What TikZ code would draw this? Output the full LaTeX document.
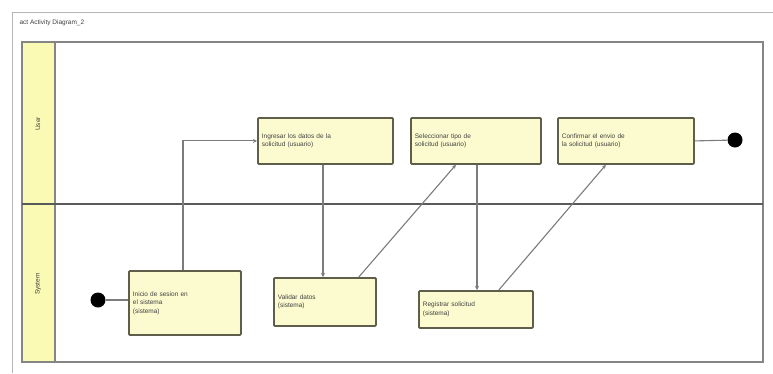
\documentclass[tikz,border=0pt]{standalone}
\usepackage{fontspec}
\setmainfont{Liberation Sans}
\usetikzlibrary{arrows.meta,calc}
\definecolor{actfill}{HTML}{FBFBCF}
\definecolor{actdraw}{HTML}{5E5E4A}
\definecolor{lanefill}{HTML}{FAFAB4}
\definecolor{framegray}{HTML}{858585}
\definecolor{linkgray}{HTML}{7C7C7C}
\tikzset{
  act/.style={draw=actdraw, line width=1.8pt, fill=actfill, rounded corners=1pt,
    inner sep=0pt, align=left, font=\fontsize{6.5}{8.5}\selectfont, text=black!75, anchor=north west},
  link/.style={draw=linkgray, line width=1.1pt, -{Stealth[length=4pt,width=4pt]}},
  plain/.style={draw=linkgray, line width=1.1pt},
  dotnode/.style={circle, fill=black, minimum size=15pt, inner sep=0pt},
  lanelbl/.style={rotate=90, font=\fontsize{6.5}{8}\selectfont, text=black!75}
}
\begin{document}
\begin{tikzpicture}[x=1pt,y=-1pt]
\useasboundingbox (0,0) rectangle (773,373);
\fill[white] (0,0) rectangle (773,373);
% outer window lines
\draw[framegray!60, line width=0.8pt] (12,12) -- (773,12);
\draw[framegray!60, line width=0.8pt] (12,12) -- (12,373);
\node[anchor=west, font=\fontsize{6.5}{8}\selectfont, text=black!75] (title) at (16,23) {act Activity Diagram\_2};
% diagram frame and lanes
\fill[lanefill] (22,42) rectangle (55,362);
\draw[framegray, line width=1.5pt] (22,42) rectangle (763,362);
\draw[framegray, line width=1.5pt] (55,42) -- (55,362);
\draw[black!65, line width=1.8pt] (22,204) -- (763,204);
\node[lanelbl] (lane1) at (38,124) {User};
\node[lanelbl] (lane2) at (38,284) {System};
% nodes
\node[dotnode] (start) at (98,300) {};
\node[act, minimum width=112pt, minimum height=64pt, text width=104pt, inner xsep=4pt] (a) at (128,270) {Inicio de sesion en\\ el sistema\\ (sistema)};
\node[act, minimum width=135pt, minimum height=46pt, text width=127pt, inner xsep=4pt] (b) at (257,117) {Ingresar los datos de la\\ solicitud (usuario)};
\node[act, minimum width=130pt, minimum height=46pt, text width=122pt, inner xsep=4pt] (c) at (410,117) {Seleccionar tipo de\\ solicitud (usuario)};
\node[act, minimum width=136pt, minimum height=46pt, text width=128pt, inner xsep=4pt] (d) at (557,117) {Confirmar el envio de\\ la solicitud (usuario)};
\node[dotnode] (final) at (735,140) {};
\node[act, minimum width=102pt, minimum height=48pt, text width=94pt, inner xsep=4pt] (e) at (273,277) {Validar datos\\ (sistema)};
\node[act, minimum width=114pt, minimum height=37pt, text width=106pt, inner xsep=4pt] (f) at (418,290) {Registrar solicitud\\ (sistema)};
% connectors
\draw[plain] (start) -- (a.west |- start);
\draw[link] (a.north -| 183,0) |- (b.west);
\draw[link] (b.south -| 323,0) -- (e.north -| 323,0);
\draw[link] ($(e.north east)+(-18,0)$) -- ($(c.south)+(-20,0)$);
\draw[link] (c.south -| 477,0) -- (f.north -| 477,0);
\draw[link] ($(f.north east)+(-35,0)$) -- ($(d.south)+(-20,0)$);
\draw[plain] (d.east) -- (final);
\end{tikzpicture}
\end{document}
